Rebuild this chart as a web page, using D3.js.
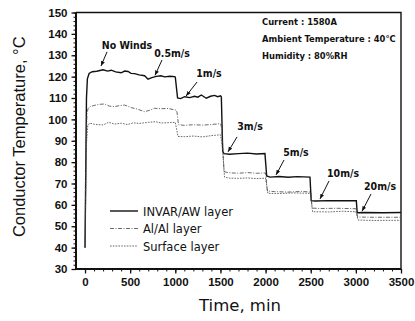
<!DOCTYPE html>
<html>
<head>
<meta charset="utf-8">
<script src="https://cdn.jsdelivr.net/npm/d3@7"></script>
<style>
  body { margin: 0; background: #fff; }
  svg { display: block; }
  .tick text { font-family: "Liberation Sans", Arial, sans-serif; font-weight: bold; font-size: 11.5px; fill: #111; }
  .anno { font-family: "Liberation Sans Narrow", "DejaVu Sans Condensed", sans-serif; font-weight: bold; font-size: 10.5px; fill: #111; }
</style>
</head>
<body>
<div id="chart"></div>
<script>
// series: [time (min), temperature (°C)]
const invarLayer = [[0,40],[8,75],[16,110],[26,119],[45,121.5],[80,122.3],[130,122.5],[200,123.2],[250,122.6],[290,123],[340,122.2],[400,121.8],[440,122.6],[476,122.4],[510,121.5],[549,121.4],[600,120.8],[660,120.4],[698,118.8],[740,119.5],[790,120.1],[840,120.4],[882,119.9],[940,120.2],[993,120],[1000,119.8],[1025,110],[1060,109.7],[1103,110.6],[1160,110.2],[1214,110.8],[1250,110.4],[1288,111.4],[1343,109.9],[1390,110.8],[1435,111.2],[1470,110.6],[1502,111],[1510,110.5],[1525,85],[1540,84],[1600,83.7],[1700,84],[1800,84.2],[1900,83.8],[1993,84],[2012,73.5],[2050,73],[2150,73.3],[2250,72.9],[2350,73.2],[2492,73],[2505,62],[2550,61.8],[2700,62],[2850,61.9],[3005,62],[3015,56.3],[3100,56.4],[3300,56.3],[3500,56.4]];
const alLayer = [[0,40],[10,85],[22,103],[35,105.2],[60,106],[100,106.5],[150,107],[217,107.2],[270,106.2],[327,106],[380,106.4],[438,106.7],[512,105.5],[580,104.8],[660,103.6],[710,104.2],[771,105.2],[840,105],[919,105.1],[1011,104.3],[1020,103],[1035,97.5],[1100,97.2],[1200,97.5],[1300,97.3],[1400,97.6],[1500,98],[1515,96],[1540,75.5],[1600,75],[1700,74.8],[1800,75.1],[1900,74.8],[2000,74.9],[2020,66.5],[2100,66.2],[2250,66],[2400,66.3],[2500,66],[2515,58.5],[2600,58.3],[2800,58.4],[3000,58.2],[3020,54.3],[3200,54.2],[3500,54.2]];
const surfaceLayer = [[0,40],[15,88],[30,97],[50,98.2],[120,97.6],[200,97.4],[260,98.6],[330,97.8],[400,98.2],[470,97.6],[540,98.4],[600,98.1],[700,98.6],[780,98.9],[850,98.3],[930,98.5],[1000,98.6],[1030,92],[1100,91.9],[1200,92.2],[1300,91.8],[1400,92.4],[1500,92.8],[1520,88],[1545,73],[1600,72.5],[1700,72.4],[1800,72.6],[1900,72.3],[2000,72.5],[2025,65.4],[2150,65.3],[2300,65.6],[2500,65.4],[2520,56.8],[2700,56.7],[2850,57],[3000,56.8],[3025,52.9],[3200,52.7],[3500,52.8]];

const seriesNames = ['INVAR/AW layer', 'Al/Al layer', 'Surface layer'];
const xTicks = [0, 500, 1000, 1500, 2000, 2500, 3000, 3500];
const yTicks = [30, 40, 50, 60, 70, 80, 90, 100, 110, 120, 130, 140, 150];

// wind speed labels: text point and arrow tail/head, in data units
const windLabels = ['No Winds', '0.5m/s', '1m/s', '3m/s', '5m/s', '10m/s', '20m/s'];
const windText = [[465,132.9],[964,129.4],[1373,119.9],[1828,94.8],[2337,82.9],[2858,73.1],[3268,67.1]];
const windArrow = [[[244,131.6],[177,125]],[[853,127.8],[775,120.6]],[[1241,117.5],[1119,110.9]],[[1684,91.8],[1584,84.8]],[[2204,81],[2116,74]],[[2703,71.2],[2603,62.8]],[[3168,65.1],[3068,57]]];

const infoLines = ['Current : 1580A', 'Ambient Temperature : 40\u00b0C', 'Humidity : 80%RH'];

const W = 415, H = 321;
const svg = d3.select('#chart').append('svg')
    .attr('width', W)
    .attr('height', H);

const x = d3.scaleLinear().domain([-100, 3500]).range([76, 401]);
const y = d3.scaleLinear().domain([30, 150]).range([269, 12.5]);

// minor ticks
svg.append('g')
    .attr('transform', `translate(0,${y(30)})`)
    .call(d3.axisBottom(x).tickValues(d3.range(0, 3501, 100)).tickSize(2.5).tickFormat(''))
    .call(g => g.select('.domain').remove())
    .selectAll('line').attr('stroke', '#111');
svg.append('g')
    .attr('transform', `translate(${x(-100)},0)`)
    .call(d3.axisLeft(y).tickValues(d3.range(30, 151, 2)).tickSize(2.5).tickFormat(''))
    .call(g => g.select('.domain').remove())
    .selectAll('line').attr('stroke', '#111');

// major ticks + labels
const xAxis = svg.append('g')
    .attr('transform', `translate(0,${y(30)})`)
    .call(d3.axisBottom(x).tickValues(xTicks).tickFormat(d3.format('d')).tickSize(4.5).tickPadding(4));
xAxis.select('.domain').remove();
xAxis.selectAll('line').attr('stroke', '#111').attr('stroke-width', 1.3);

const yAxis = svg.append('g')
    .attr('transform', `translate(${x(-100)},0)`)
    .call(d3.axisLeft(y).tickValues(yTicks).tickSize(4.5).tickPadding(4));
yAxis.select('.domain').remove();
yAxis.selectAll('line').attr('stroke', '#111').attr('stroke-width', 1.3);

// frame
svg.append('path')
    .attr('d', `M${x(-100)},${y(150)}H${x(3500)}V${y(30)}`)
    .attr('fill', 'none').attr('stroke', '#111').attr('stroke-width', 1.4);
svg.append('path')
    .attr('d', `M${x(-100)},${y(150)}V${y(30)}H${x(3500)}`)
    .attr('fill', 'none').attr('stroke', '#111').attr('stroke-width', 2);

// lines
const line = d3.line().x(d => x(d[0])).y(d => y(d[1]));
const styles = [
    { data: invarLayer, width: 1.4, dash: null, color: '#111' },
    { data: alLayer, width: 0.8, dash: '4,1.5,1,1.5', color: '#444' },
    { data: surfaceLayer, width: 0.8, dash: '1.6,1.2', color: '#444' }
];
svg.append('g').selectAll('path')
    .data(styles)
    .join('path')
    .attr('d', d => line(d.data))
    .attr('fill', 'none')
    .attr('stroke', d => d.color)
    .attr('stroke-width', d => d.width)
    .attr('stroke-dasharray', d => d.dash);

// arrows
svg.append('defs').append('marker')
    .attr('id', 'head')
    .attr('viewBox', '0 0 10 10')
    .attr('refX', 10).attr('refY', 5)
    .attr('markerWidth', 5).attr('markerHeight', 5)
    .attr('orient', 'auto')
    .append('path').attr('d', 'M0,1L10,5L0,9Z').attr('fill', '#111');

svg.append('g').selectAll('line')
    .data(windArrow)
    .join('line')
    .attr('x1', d => x(d[0][0])).attr('y1', d => y(d[0][1]))
    .attr('x2', d => x(d[1][0])).attr('y2', d => y(d[1][1]))
    .attr('stroke', '#111').attr('stroke-width', 1)
    .attr('marker-end', 'url(#head)');

svg.append('g').selectAll('text')
    .data(windLabels)
    .join('text')
    .attr('class', 'anno')
    .attr('x', (d, i) => x(windText[i][0]))
    .attr('y', (d, i) => y(windText[i][1]))
    .attr('text-anchor', 'middle')
    .text(d => d);

// conditions
svg.append('g').selectAll('text')
    .data(infoLines)
    .join('text')
    .attr('class', 'anno')
    .style('font-size', '9.3px')
    .attr('x', 262)
    .attr('y', (d, i) => 25 + i * 17)
    .text(d => d);

// legend
const legend = svg.append('g').attr('transform', 'translate(110,211)');
legend.selectAll('line')
    .data(styles)
    .join('line')
    .attr('x1', 0).attr('x2', 28)
    .attr('y1', (d, i) => i * 17.5).attr('y2', (d, i) => i * 17.5)
    .attr('stroke', d => d.color)
    .attr('stroke-width', d => d.width)
    .attr('stroke-dasharray', d => d.dash);
legend.selectAll('text')
    .data(seriesNames)
    .join('text')
    .attr('x', 33)
    .attr('y', (d, i) => i * 17.5 + 4.5)
    .style('font-family', '"DejaVu Sans", sans-serif')
    .style('font-size', '11.5px')
    .style('fill', '#111')
    .text(d => d);

// axis titles
svg.append('text')
    .attr('transform', `translate(25,${(y(30) + y(150)) / 2 - 4}) rotate(-90)`)
    .attr('text-anchor', 'middle')
    .style('font-family', '"Liberation Sans", Arial, sans-serif')
    .style('font-size', '16.5px')
    .style('fill', '#111')
    .text('Conductor Temperature, \u00b0C');

svg.append('text')
    .attr('x', 240)
    .attr('y', 311)
    .attr('text-anchor', 'middle')
    .style('font-family', '"DejaVu Sans", sans-serif')
    .style('font-size', '16.5px')
    .style('fill', '#111')
    .text('Time, min');
</script>
</body>
</html>
